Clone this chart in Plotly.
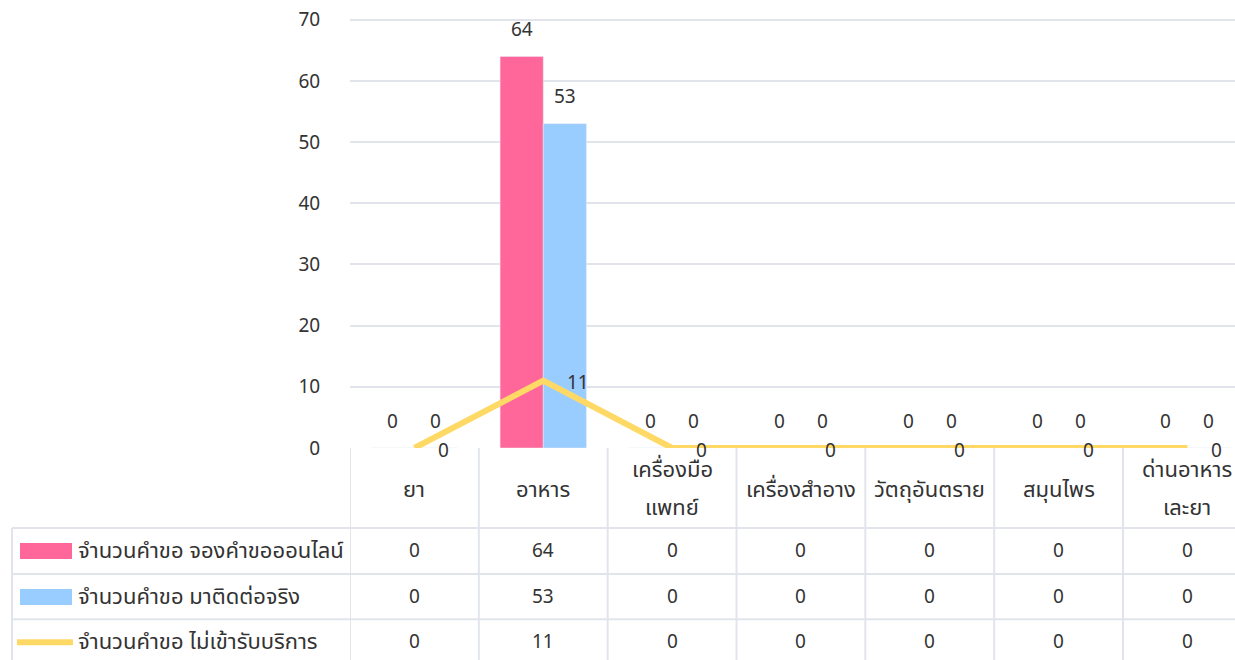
import plotly.graph_objects as go

categories = ["ยา", "อาหาร", "เครื่องมือ\nแพทย์", "เครื่องสำอาง", "วัตถุอันตราย", "สมุนไพร", "ด่านอาหาร\nเละยา"]
series_names = ["จำนวนคำขอ จองคำขอออนไลน์", "จำนวนคำขอ มาติดต่อจริง", "จำนวนคำขอ ไม่เข้ารับบริการ"]
online = [0, 64, 0, 0, 0, 0, 0]
walkin = [0, 53, 0, 0, 0, 0, 0]
noshow = [0, 11, 0, 0, 0, 0, 0]
y_ticks = [0, 10, 20, 30, 40, 50, 60, 70]

PINK = "#FF6699"
BLUE = "#99CCFF"
YELLOW = "#FFD966"
GRID = "#E1E5EB"
TXT = "#333333"
FONT = "Noto Sans Thai, Noto Sans, Tahoma, sans-serif"
FS = 19      # digits
FST = 22     # Thai text

W, H = 1235, 660
YMAX = 70.6
B = 448                       # pixel of y = 0
Y70 = 20                      # pixel of y = 70
pxu = (B - Y70) / 70.0
T = Y70 - (YMAX - 70) * pxu
L, R = 350, W
n = len(categories)
xs = list(range(n))
catw = (1123 - 350) / 6.0
xmax = -0.5 + (R - L) / catw

def px(xp):
    return (xp - L) / (R - L)

def py(yp):
    return (B - yp) / (B - T)

def font(sz):
    return dict(size=sz, color=TXT, family=FONT)

fig = go.Figure()
fig.add_trace(go.Bar(x=xs, y=online, name=series_names[0], marker_color=PINK))
fig.add_trace(go.Bar(x=xs, y=walkin, name=series_names[1], marker_color=BLUE))
fig.add_trace(go.Scatter(x=xs, y=noshow, name=series_names[2], mode="lines",
                         line=dict(color=YELLOW, width=6)))

ann = []
shapes = []
# bar value labels
for vals, dx in ((online, -0.167), (walkin, 0.167)):
    for i, v in enumerate(vals):
        ann.append(dict(x=i + dx, y=v, xref="x", yref="y", text=str(v), showarrow=False,
                        xanchor="center", yanchor="middle", yshift=26, font=font(FS)))
# line value labels
for i, v in enumerate(noshow):
    ann.append(dict(x=i, y=v, xref="x", yref="y", text=str(v), showarrow=False,
                    xanchor="left", yanchor="middle", xshift=22, yshift=-3, font=font(FS)))

# table: category header
for i, c in enumerate(categories):
    lines = c.split("\n")
    ys = [490] if len(lines) == 1 else [470, 508]
    for t, yy in zip(lines, ys):
        ann.append(dict(x=i, y=py(yy), xref="x", yref="paper", text=t, showarrow=False,
                        xanchor="center", yanchor="middle", font=font(FST)))

row_y = [551, 597, 642]
table_vals = [online, walkin, noshow]
for r, (vals, ry) in enumerate(zip(table_vals, row_y)):
    ann.append(dict(x=px(76), y=py(ry), xref="paper", yref="paper", text=series_names[r],
                    showarrow=False, xanchor="left", yanchor="middle", font=font(FST)))
    for i, v in enumerate(vals):
        ann.append(dict(x=i, y=py(ry), xref="x", yref="paper", text=str(v), showarrow=False,
                        xanchor="center", yanchor="middle", font=font(FS)))

# legend keys
shapes.append(dict(type="rect", xref="paper", yref="paper", x0=px(20), x1=px(72),
                   y0=py(559), y1=py(543), fillcolor=PINK, line=dict(width=0)))
shapes.append(dict(type="rect", xref="paper", yref="paper", x0=px(20), x1=px(72),
                   y0=py(605), y1=py(589), fillcolor=BLUE, line=dict(width=0)))
shapes.append(dict(type="rect", xref="paper", yref="paper", x0=px(17), x1=px(73),
                   y0=py(645), y1=py(639), fillcolor=YELLOW, line=dict(width=0)))

# table grid lines
for yy in (528, 574, 619):
    shapes.append(dict(type="line", xref="paper", yref="paper", x0=px(12), x1=px(R + 20),
                       y0=py(yy), y1=py(yy), line=dict(color=GRID, width=2)))
shapes.append(dict(type="line", xref="paper", yref="paper", x0=px(12), x1=px(12),
                   y0=py(528), y1=py(H + 20), line=dict(color=GRID, width=2)))
for i in range(n):
    shapes.append(dict(type="line", xref="x", yref="paper", x0=i - 0.5, x1=i - 0.5,
                       y0=0, y1=py(H + 20), line=dict(color=GRID, width=2)))

fig.update_layout(
    width=W, height=H,
    margin=dict(l=L, r=W - R, t=T, b=H - B),
    paper_bgcolor="white", plot_bgcolor="white",
    barmode="group", bargap=0.33, bargroupgap=0,
    showlegend=False,
    font=dict(family=FONT, size=FS, color=TXT),
    xaxis=dict(range=[-0.5, xmax], showticklabels=False, showgrid=False, zeroline=False,
               fixedrange=True),
    yaxis=dict(range=[0, YMAX], tickvals=y_ticks, showgrid=True, gridcolor=GRID, gridwidth=2,
               zeroline=False, ticks="outside", ticklen=25, tickcolor="rgba(0,0,0,0)",
               tickfont=font(FS)),
    annotations=ann, shapes=shapes,
)
fig.write_html(
    "out.html",
    config={"displayModeBar": False},
    post_script="document.body.style.margin='0';document.body.style.overflow='hidden';",
)
